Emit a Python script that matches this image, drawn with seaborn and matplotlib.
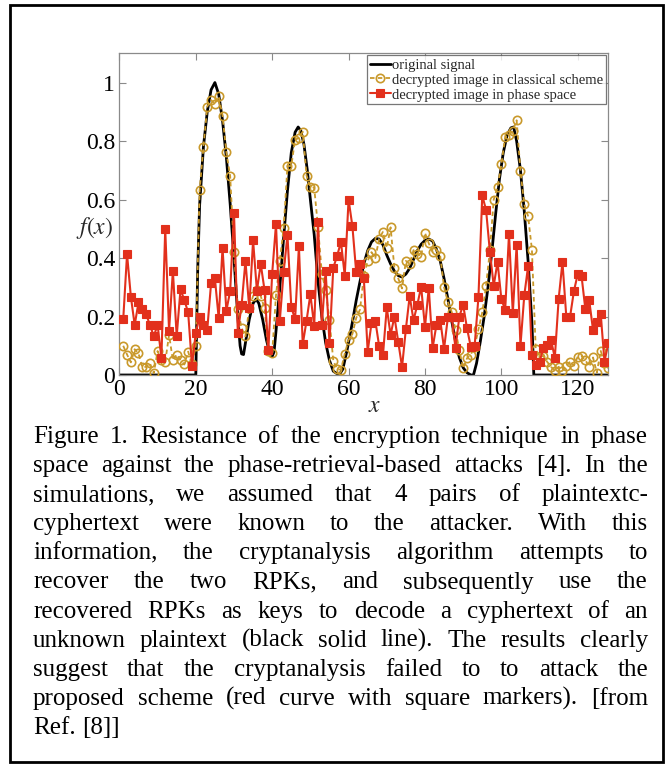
import numpy as np
import pandas as pd
import matplotlib
matplotlib.use("Agg")
import matplotlib.pyplot as plt
import seaborn as sns
from matplotlib.patches import Rectangle

# ---------------- data ----------------
x_idx = list(range(1, 129))

phase_space = [
    0.19, 0.413, 0.268, 0.171, 0.248, 0.227, 0.208, 0.171, 0.133, 0.171,
    0.059, 0.50, 0.151, 0.356, 0.133, 0.293, 0.256, 0.214, 0.032, 0.145,
    0.20, 0.17, 0.155, 0.313, 0.33, 0.194, 0.435, 0.22, 0.287, 0.555,
    0.145, 0.24, 0.39, 0.228, 0.46, 0.288, 0.38, 0.29, 0.085, 0.347,
    0.516, 0.186, 0.353, 0.478, 0.233, 0.19, 0.44, 0.105, 0.186, 0.276,
    0.167, 0.524, 0.171, 0.356, 0.108, 0.367, 0.407, 0.455, 0.34, 0.60,
    0.509, 0.351, 0.379, 0.33, 0.08, 0.177, 0.186, 0.099, 0.068, 0.231,
    0.137, 0.20, 0.113, 0.027, 0.157, 0.27, 0.187, 0.24, 0.302, 0.163,
    0.298, 0.092, 0.171, 0.188, 0.09, 0.197, 0.197, 0.092, 0.20, 0.24,
    0.16, 0.096, 0.098, 0.266, 0.614, 0.564, 0.421, 0.305, 0.387, 0.26,
    0.222, 0.482, 0.211, 0.445, 0.10, 0.272, 0.372, 0.067, 0.035, 0.045,
    0.093, 0.102, 0.12, 0.059, 0.26, 0.386, 0.20, 0.20, 0.287, 0.345,
    0.338, 0.224, 0.256, 0.154, 0.182, 0.21, 0.046, 0.108,
]

classical = [
    0.10, 0.07, 0.043, 0.088, 0.074, 0.026, 0.028, 0.04, 0.006, 0.082,
    0.05, 0.045, 0.137, 0.05, 0.07, 0.05, 0.036, 0.08, 0.036, 0.10,
    0.632, 0.78, 0.918, 0.94, 0.927, 0.953, 0.887, 0.762, 0.68, 0.422,
    0.226, 0.16, 0.132, 0.23, 0.27, 0.29, 0.27, 0.228, 0.083, 0.075,
    0.273, 0.39, 0.503, 0.714, 0.715, 0.805, 0.81, 0.832, 0.682, 0.643,
    0.641, 0.505, 0.347, 0.29, 0.188, 0.049, 0.02, 0.018, 0.073, 0.12,
    0.14, 0.195, 0.224, 0.34, 0.39, 0.42, 0.40, 0.465, 0.49, 0.435,
    0.505, 0.365, 0.33, 0.296, 0.39, 0.38, 0.427, 0.415, 0.405, 0.486,
    0.45, 0.42, 0.427, 0.406, 0.30, 0.25, 0.216, 0.154, 0.085, 0.023,
    0.057, 0.07, 0.097, 0.156, 0.214, 0.305, 0.427, 0.60, 0.643, 0.72,
    0.814, 0.82, 0.835, 0.871, 0.697, 0.584, 0.543, 0.429, 0.088, 0.063,
    0.065, 0.045, 0.028, 0.015, 0.028, 0.015, 0.03, 0.046, 0.032, 0.063,
    0.065, 0.051, 0.028, 0.06, 0.008, 0.083, 0.042, 0.023,
]

orig_x = [0, 20, 20.5, 21, 22, 23, 24, 25, 26, 27, 28, 29, 30, 31, 31.6, 32,
          32.5, 33, 34, 35, 35.8, 36.5, 37.5, 38.5, 39.5, 40, 40.5, 41, 42, 43,
          44, 45, 46, 46.8, 47.5, 48.3, 49.2, 50, 51, 52, 53, 54, 55, 56, 57.5,
          58.5, 59.6, 61, 62, 63, 64, 65, 66, 67, 68, 69, 70, 71, 72, 73, 74,
          75, 76, 77, 78, 79, 80, 81, 82, 83, 84, 85, 86, 87, 88, 89, 90, 91,
          92, 92.7, 93.5, 94.5, 95.5, 96.5, 97.5, 98.5, 99.5, 100.5, 101.5,
          102.5, 103.2, 104, 105, 106, 107, 108, 108.5, 128]
orig_y = [0, 0, 0.36, 0.58, 0.78, 0.90, 0.975, 1.0, 0.96, 0.87, 0.745, 0.585,
          0.40, 0.20, 0.10, 0.072, 0.07, 0.11, 0.19, 0.245, 0.26, 0.245, 0.19,
          0.12, 0.068, 0.063, 0.08, 0.15, 0.30, 0.47, 0.63, 0.76, 0.83, 0.848,
          0.835, 0.79, 0.70, 0.60, 0.48, 0.32, 0.20, 0.11, 0.05, 0.013, 0.0,
          0.02, 0.085, 0.18, 0.255, 0.32, 0.38, 0.425, 0.455, 0.467, 0.465,
          0.445, 0.41, 0.38, 0.355, 0.34, 0.335, 0.345, 0.365, 0.395, 0.425,
          0.447, 0.46, 0.465, 0.458, 0.43, 0.39, 0.33, 0.26, 0.185, 0.115,
          0.06, 0.025, 0.008, 0.0, 0.0, 0.04, 0.115, 0.20, 0.30, 0.42, 0.55,
          0.67, 0.76, 0.82, 0.845, 0.848, 0.80, 0.70, 0.56, 0.39, 0.18, 0.0,
          0.0]

x_ticks = [0, 20, 40, 60, 80, 100, 120]
y_ticks = [0, 0.2, 0.4, 0.6, 0.8, 1.0]
y_tick_labels = ["0", "0.2", "0.4", "0.6", "0.8", "1"]
legend_labels = ["original signal",
                 "decrypted image in classical scheme",
                 "decrypted image in phase space"]

caption_lines = [
    "Figure 1. Resistance of the encryption technique in phase",
    "space against the phase-retrieval-based attacks [4]. In the",
    "simulations, we assumed that 4 pairs of plaintextc-",
    "cyphertext were known to the attacker. With this",
    "information, the cryptanalysis algorithm attempts to",
    "recover the two RPKs, and subsequently use the",
    "recovered RPKs as keys to decode a cyphertext of an",
    "unknown plaintext (black solid line). The results clearly",
    "suggest that the cryptanalysis failed to to attack the",
    "proposed scheme (red curve with square markers). [from",
    "Ref. [8]]",
]

# ---------------- style ----------------
sns.set_style("ticks")
plt.rcParams["font.family"] = ["Liberation Serif", "DejaVu Serif"]
plt.rcParams["mathtext.fontset"] = "stix"

W, H = 670, 770
fig = plt.figure(figsize=(W / 100, H / 100), dpi=100)
fig.patch.set_facecolor("white")

ax_l, ax_r, ax_t, ax_b = 119.4, 608.3, 53.3, 375.0
ax = fig.add_axes([ax_l / W, 1 - ax_b / H, (ax_r - ax_l) / W, (ax_b - ax_t) / H])

RED = "#E2301C"
GOLD = "#C9992B"

df_orig = pd.DataFrame({"x": orig_x, "y": orig_y})
df_cls = pd.DataFrame({"x": x_idx, "y": classical})
df_ph = pd.DataFrame({"x": x_idx, "y": phase_space})

sns.lineplot(data=df_orig, x="x", y="y", ax=ax, color="black", linewidth=2.0,
             label=legend_labels[0], zorder=2)
sns.lineplot(data=df_cls, x="x", y="y", ax=ax, color=GOLD, linewidth=1.3,
             linestyle=(0, (2.5, 1.8)), marker="o", markersize=6,
             markerfacecolor="none", markeredgecolor=GOLD, markeredgewidth=1.2,
             label=legend_labels[1], zorder=3)
sns.lineplot(data=df_ph, x="x", y="y", ax=ax, color=RED, linewidth=1.5,
             marker="s", markersize=5.5, markerfacecolor=RED,
             markeredgecolor=RED, markeredgewidth=0.8,
             label=legend_labels[2], zorder=4)

ax.set_xlim(0, 128)
ax.set_ylim(0, 1.1)
ax.set_xticks(x_ticks)
ax.set_xticklabels([str(t) for t in x_ticks])
ax.set_yticks(y_ticks)
ax.set_yticklabels(y_tick_labels)

SPINE = "#8a8a8a"
for s in ax.spines.values():
    s.set_visible(True)
    s.set_color(SPINE)
    s.set_linewidth(0.9)
ax.tick_params(direction="in", length=5, width=0.8, color=SPINE,
               labelsize=17, labelcolor="black", top=True, right=True, pad=3)

ax.set_xlabel("$x$", fontsize=17, va="center")
ax.set_ylabel("$f(x)$", fontsize=17, rotation=0, va="center", ha="center")
ax.xaxis.set_label_coords((375 - ax_l) / (ax_r - ax_l), -(407 - ax_b) / (ax_b - ax_t))
ax.yaxis.set_label_coords((95 - ax_l) / (ax_r - ax_l), (ax_b - 228) / (ax_b - ax_t))

leg = ax.legend(loc="upper right", fontsize=10.5, frameon=True, fancybox=False,
                edgecolor="#555555", handlelength=1.4, handletextpad=0.1,
                borderpad=0.2, labelspacing=0.12, borderaxespad=0.15)
leg.get_frame().set_linewidth(0.9)

# ---------------- caption (justified) ----------------
renderer = fig.canvas.get_renderer()
left_px, right_px = 33, 648
y0, dy = 437, 29.1
fs = 18
for i, line in enumerate(caption_lines):
    words = line.split()
    ypx = y0 + i * dy
    yf = 1 - ypx / H
    texts = [fig.text(0, yf, w, fontsize=fs, va="center", ha="left",
                      color="black") for w in words]
    widths = [t.get_window_extent(renderer).width for t in texts]
    if i == len(caption_lines) - 1 or len(words) == 1:
        gap = fs * 0.25 * 100 / 72
    else:
        gap = (right_px - left_px - sum(widths)) / (len(words) - 1)
    xpos = left_px
    for t, w in zip(texts, widths):
        t.set_x(xpos / W)
        xpos += w + gap

# outer frame
fig.add_artist(Rectangle((10 / W, 1 - 762 / H), (663 - 10) / W, (762 - 5) / H,
                         transform=fig.transFigure, fill=False, lw=2.0,
                         ec="black"))

fig.savefig("out.png", dpi=100)
